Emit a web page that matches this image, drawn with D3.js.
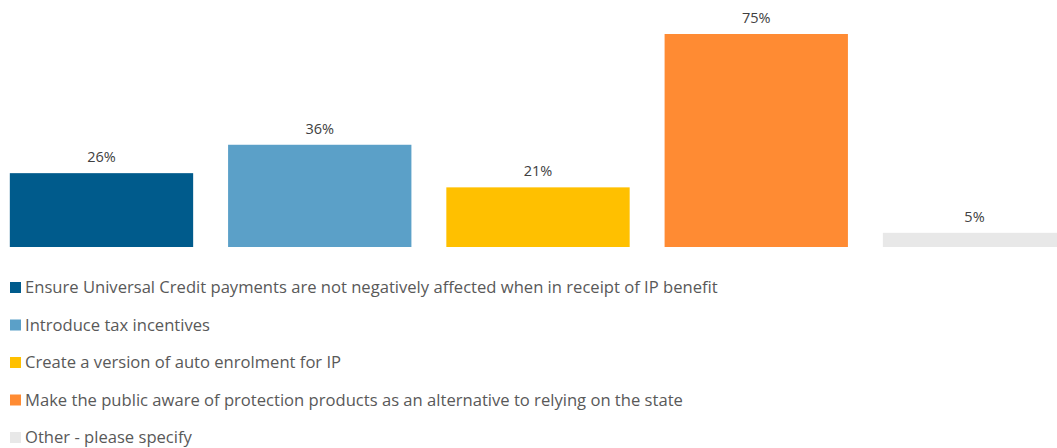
<!DOCTYPE html>
<html>
<head>
<meta charset="utf-8">
<script src="https://cdn.jsdelivr.net/npm/d3@7"></script>
<style>
  html, body { margin: 0; padding: 0; background: #ffffff; }
  svg { display: block; }
  text { font-family: "Open Sans", "Noto Sans", sans-serif; }
</style>
</head>
<body>
<svg id="chart" width="1057" height="448"></svg>
<script>
// Survey options and share of respondents choosing each
const categories = [
  "Ensure Universal Credit payments are not negatively affected when in receipt of IP benefit",
  "Introduce tax incentives",
  "Create a version of auto enrolment for IP",
  "Make the public aware of protection products as an alternative to relying on the state",
  "Other - please specify"
];
const values = [26, 36, 21, 75, 5];
const colors = ["#005B8C", "#5BA0C8", "#FFC000", "#FF8B33", "#E8E8E8"];

const svg = d3.select("#chart");

const x = d3.scaleBand()
  .domain(categories)
  .range([0, 1076])
  .paddingInner(0.16)
  .paddingOuter(0.045);

const y = d3.scaleLinear()
  .domain([0, 75])
  .range([247, 34]);

// Bars
svg.append("g")
  .selectAll("rect")
  .data(categories)
  .join("rect")
  .attr("x", d => x(d))
  .attr("width", x.bandwidth())
  .attr("y", (d, i) => y(values[i]))
  .attr("height", (d, i) => y(0) - y(values[i]))
  .attr("fill", (d, i) => colors[i]);

// Value labels above bars
svg.append("g")
  .selectAll("text")
  .data(categories)
  .join("text")
  .attr("x", d => x(d) + x.bandwidth() / 2)
  .attr("y", (d, i) => y(values[i]) - 11)
  .attr("text-anchor", "middle")
  .attr("font-size", 14.5)
  .attr("fill", "#404040")
  .text((d, i) => values[i] + "%");

// Legend
const legend = svg.append("g")
  .selectAll("g")
  .data(categories)
  .join("g")
  .attr("transform", (d, i) => `translate(10, ${282 + i * 37.5})`);

legend.append("rect")
  .attr("width", 11)
  .attr("height", 11)
  .attr("fill", (d, i) => colors[i]);

legend.append("text")
  .attr("x", 15)
  .attr("y", 5.5)
  .attr("dy", "0.35em")
  .attr("font-size", 16.6)
  .attr("fill", "#595959")
  .text(d => d);
</script>
</body>
</html>
